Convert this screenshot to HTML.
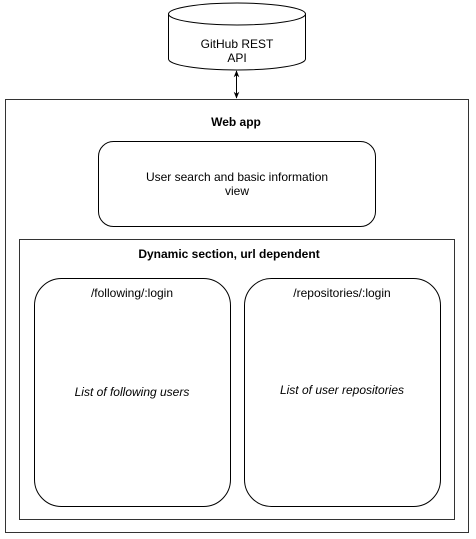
<!DOCTYPE html>
<html><head><style>
html,body{margin:0;padding:0;background:#fff;}
svg{display:block;}
text{font-family:"Liberation Sans",Arial,sans-serif;font-size:12px;fill:#000;}
</style></head><body>
<svg width="476" height="539" viewBox="0 0 476 539" xmlns="http://www.w3.org/2000/svg">
<defs>
<marker id="a" viewBox="0 0 10 10" refX="9" refY="5" markerWidth="7" markerHeight="7" orient="auto-start-reverse"><path d="M0,1 L10,5 L0,9 L3,5 Z" fill="#000"/></marker>
</defs>
<g stroke="#000" fill="#fff" stroke-width="1">
<path d="M168.5,14 v45 a68.5,11 0 0 0 137,0 v-45" />
<ellipse cx="237" cy="14" rx="68.5" ry="11"/>
<line x1="236.5" y1="71" x2="236.5" y2="98" marker-start="url(#a)" marker-end="url(#a)"/>
<rect x="5.5" y="99.5" width="463" height="433" stroke="#333"/>
<rect x="98.5" y="141.5" width="277" height="85" rx="15"/>
<rect x="19.5" y="239.5" width="435" height="280" stroke="#333"/>
<rect x="34.5" y="278.5" width="196" height="228" rx="27"/>
<rect x="244.5" y="278.5" width="196" height="228" rx="27"/>
</g>
<text x="237" y="48" text-anchor="middle">GitHub REST</text>
<text x="237" y="62" text-anchor="middle">API</text>
<text x="236" y="126" text-anchor="middle" font-weight="bold">Web app</text>
<text x="237" y="181" text-anchor="middle">User search and basic information</text>
<text x="237" y="195" text-anchor="middle">view</text>
<text x="229" y="258" text-anchor="middle" font-weight="bold">Dynamic section, url dependent</text>
<text x="132" y="297" text-anchor="middle">/following/:login</text>
<text x="132" y="396" text-anchor="middle" font-style="italic">List of following users</text>
<text x="342" y="297" text-anchor="middle">/repositories/:login</text>
<text x="342" y="394" text-anchor="middle" font-style="italic">List of user repositories</text>
</svg>
</body></html>
